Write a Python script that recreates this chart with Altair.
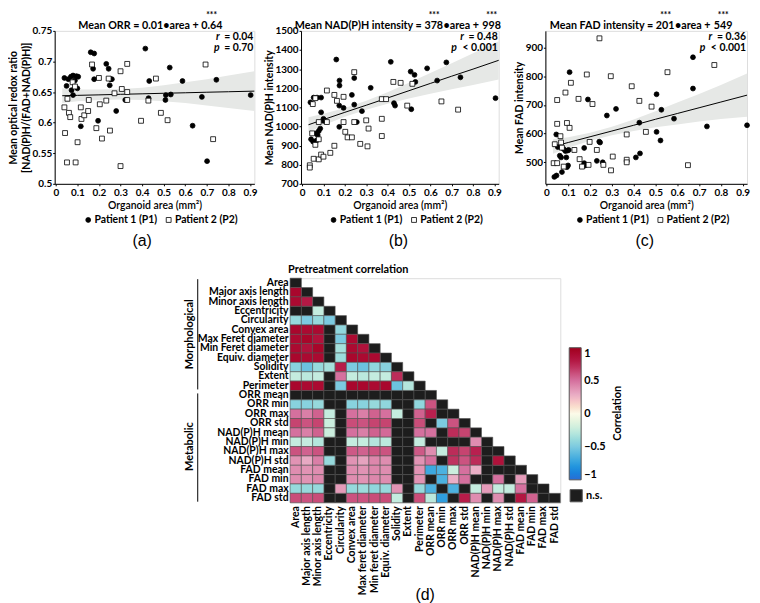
import altair as alt
import pandas as pd

FONT = "Lato"
PATIENTS = ["Patient 1 (P1)", "Patient 2 (P2)"]
XTICKS = [0, 0.1, 0.2, 0.3, 0.4, 0.5, 0.6, 0.7, 0.8, 0.9]

# ---------------- (a) Mean ORR ----------------
A_P1_X = [0.04, 0.05, 0.058, 0.07, 0.08, 0.089, 0.096, 0.10, 0.073, 0.08, 0.104, 0.116, 0.162, 0.178,
          0.173, 0.178, 0.196, 0.234, 0.245, 0.25, 0.254, 0.26, 0.28, 0.322, 0.415, 0.433, 0.43, 0.51,
          0.508, 0.528, 0.533, 0.587, 0.634, 0.677, 0.701, 0.744, 0.903]
A_P1_Y = [0.673, 0.660, 0.671, 0.675, 0.677, 0.669, 0.676, 0.656, 0.653, 0.645, 0.675, 0.594, 0.715, 0.713,
          0.688, 0.671, 0.603, 0.696, 0.688, 0.661, 0.671, 0.671, 0.619, 0.637, 0.721, 0.668, 0.640, 0.645,
          0.637, 0.690, 0.646, 0.668, 0.595, 0.642, 0.537, 0.670, 0.645]
A_P2_X = [0.04, 0.043, 0.052, 0.054, 0.061, 0.067, 0.078, 0.089, 0.092, 0.101, 0.116, 0.119, 0.132, 0.15,
          0.153, 0.168, 0.188, 0.2, 0.204, 0.214, 0.234, 0.245, 0.251, 0.272, 0.30, 0.306, 0.30, 0.331,
          0.331, 0.331, 0.395, 0.429, 0.464, 0.487, 0.518, 0.694, 0.729]
A_P2_Y = [0.625, 0.583, 0.535, 0.639, 0.616, 0.609, 0.666, 0.659, 0.535, 0.568, 0.625, 0.606, 0.612, 0.619,
          0.637, 0.695, 0.591, 0.673, 0.630, 0.574, 0.636, 0.672, 0.587, 0.648, 0.684, 0.655, 0.529, 0.650,
          0.637, 0.696, 0.603, 0.636, 0.672, 0.616, 0.604, 0.695, 0.573]
BAND_X = [0.03, 0.1, 0.2, 0.3, 0.4, 0.5, 0.6, 0.7, 0.8, 0.92]
A_FIT = [0.644, 0.6446, 0.6454, 0.6463, 0.6471, 0.648, 0.6488, 0.6497, 0.6505, 0.6515]
A_LO = [0.632, 0.635, 0.637, 0.638, 0.637, 0.635, 0.632, 0.628, 0.624, 0.619]
A_HI = [0.656, 0.654, 0.654, 0.655, 0.657, 0.661, 0.666, 0.671, 0.677, 0.684]

# ---------------- (b) Mean NAD(P)H ----------------
B_P1_X = [0.039, 0.054, 0.07, 0.089, 0.042, 0.051, 0.064, 0.073, 0.085, 0.089, 0.10, 0.10, 0.078, 0.067,
          0.16, 0.175, 0.175, 0.174, 0.194, 0.174, 0.233, 0.244, 0.244, 0.256, 0.28, 0.321, 0.415, 0.43,
          0.435, 0.508, 0.511, 0.526, 0.53, 0.585, 0.632, 0.675, 0.741, 0.905]
B_P1_Y = [1126, 1151, 1151, 1151, 933, 921, 964, 955, 989, 1074, 1040, 1029, 976, 926,
          1350, 1240, 1214, 1109, 1097, 998, 1165, 1253, 1114, 1023, 1080, 1202, 1338, 1122,
          1109, 1287, 1090, 1270, 1233, 1304, 1240, 1335, 1257, 1148]
B_P2_X = [0.036, 0.036, 0.047, 0.05, 0.054, 0.062, 0.062, 0.078, 0.078, 0.078, 0.089, 0.10, 0.116, 0.116,
          0.132, 0.151, 0.151, 0.163, 0.194, 0.194, 0.202, 0.213, 0.233, 0.244, 0.244, 0.272, 0.30, 0.306,
          0.311, 0.373, 0.373, 0.373, 0.393, 0.427, 0.461, 0.492, 0.516, 0.652, 0.73]
B_P2_Y = [797, 785, 964, 1117, 831, 1148, 904, 1023, 828, 933, 853, 842, 1188, 1023,
          862, 899, 1165, 1134, 1155, 1023, 972, 943, 943, 1284, 1023, 909, 1032, 896,
          989, 1040, 950, 1143, 1143, 1233, 1228, 1109, 1223, 1131, 1088]
B_FIT = [1009, 1036, 1074, 1111, 1149, 1187, 1225, 1263, 1300, 1346]
B_LO = [970, 1006, 1051, 1088, 1119, 1146, 1171, 1195, 1217, 1246]
B_HI = [1048, 1066, 1097, 1134, 1179, 1228, 1279, 1331, 1383, 1446]

# ---------------- (c) Mean FAD ----------------
C_P1_X = [0.036, 0.046, 0.045, 0.052, 0.061, 0.067, 0.071, 0.079, 0.087, 0.091, 0.094, 0.099, 0.106, 0.097,
          0.102, 0.173, 0.173, 0.178, 0.19, 0.231, 0.242, 0.246, 0.258, 0.277, 0.319, 0.41, 0.429, 0.426,
          0.505, 0.505, 0.523, 0.527, 0.585, 0.672, 0.672, 0.736, 0.92]
C_P1_Y = [449, 454, 597, 553, 523, 517, 466, 546, 539, 517, 483, 489, 814, 541,
          543, 550, 497, 489, 719, 505, 572, 569, 500, 663, 686, 517, 531, 638,
          737, 606, 576, 683, 652, 866, 757, 625, 629]
C_P2_X = [0.033, 0.038, 0.049, 0.049, 0.049, 0.064, 0.067, 0.071, 0.079, 0.087, 0.094, 0.106, 0.112, 0.128,
          0.147, 0.152, 0.163, 0.185, 0.193, 0.198, 0.211, 0.231, 0.243, 0.261, 0.295, 0.304, 0.296, 0.368,
          0.368, 0.368, 0.391, 0.426, 0.456, 0.482, 0.555, 0.649, 0.77]
C_P2_Y = [497, 563, 717, 634, 497, 591, 569, 551, 485, 743, 637, 620, 777, 543,
          721, 511, 485, 806, 491, 571, 703, 543, 932, 491, 800, 520, 472, 597,
          509, 500, 765, 714, 606, 694, 814, 490, 839]
C_FIT = [555, 569, 589, 609, 629, 650, 670, 690, 710, 734]
C_LO = [530, 551, 575, 594, 609, 622, 632, 642, 651, 659]
C_HI = [580, 587, 603, 624, 649, 678, 708, 738, 769, 809]

# ---------------- (d) correlation heatmap ----------------
ROW_LABELS = ["Area", "Major axis length", "Minor axis length", "Eccentricity", "Circularity",
              "Convex area", "Max Feret diameter", "Min Feret diameter", "Equiv. diameter", "Solidity",
              "Extent", "Perimeter", "ORR mean", "ORR min", "ORR max", "ORR std", "NAD(P)H mean",
              "NAD(P)H min", "NAD(P)H max", "NAD(P)H std", "FAD mean", "FAD min", "FAD max", "FAD std"]
COL_LABELS = ["Area", "Major axis length", "Minor axis length", "Eccentricity", "Circularity",
              "Convex area", "Max feret diameter", "Min feret diameter", "Equiv. diameter", "Solidity",
              "Extent", "Perimeter", "ORR mean", "ORR min", "ORR max", "ORR std", "NAD(P)H mean",
              "NAD(P)H min", "NAD(P)H max", "NAD(P)H std", "FAD mean", "FAD min", "FAD max", "FAD std"]
N = None  # not significant
CORR = [
    [],
    [0.92],
    [0.9, 0.8],
    [N, N, -0.25],
    [-0.4, -0.5, -0.4, -0.5],
    [0.92, 0.9, 0.9, N, -0.42],
    [0.9, 0.93, 0.85, N, -0.5, 0.9],
    [0.9, 0.85, 0.93, N, -0.35, 0.9, 0.85],
    [0.92, 0.9, 0.9, N, -0.38, 0.92, 0.9, 0.9],
    [-0.45, -0.55, -0.4, -0.35, 0.78, -0.5, -0.55, -0.42, -0.45],
    [-0.25, -0.28, -0.25, N, 0.5, -0.25, -0.28, -0.25, -0.25, 0.72],
    [0.92, 0.9, 0.9, N, -0.5, 0.92, 0.92, 0.9, 0.92, -0.55, -0.3],
    [N, N, N, N, N, N, N, N, N, N, N, N],
    [-0.45, -0.45, -0.4, N, N, -0.45, -0.45, -0.4, -0.42, N, N, -0.42, 0.6],
    [0.5, 0.45, 0.55, -0.25, N, 0.5, 0.45, 0.55, 0.5, -0.25, N, 0.55, 0.75, N],
    [0.65, 0.6, 0.65, -0.22, N, 0.62, 0.6, 0.65, 0.65, N, N, 0.62, N, -0.5, 0.6],
    [0.5, 0.45, 0.55, -0.22, N, 0.5, 0.45, 0.55, 0.52, N, N, 0.5, 0.5, N, 0.72, 0.65],
    [-0.25, -0.25, -0.3, N, N, -0.25, -0.25, -0.3, -0.28, N, N, -0.25, N, N, N, N, 0.4],
    [0.6, 0.55, 0.6, N, N, 0.58, 0.55, 0.6, 0.6, N, N, 0.58, 0.4, -0.25, 0.72, 0.65, 0.75, N],
    [0.38, 0.3, 0.45, -0.4, N, 0.38, 0.32, 0.42, 0.4, N, N, 0.38, 0.5, N, 0.7, 0.6, 0.72, N, 0.85],
    [0.4, 0.38, 0.4, N, N, 0.4, 0.38, 0.42, 0.4, N, N, 0.38, -0.7, -0.65, -0.22, 0.5, 0.28, N, N, N],
    [0.4, 0.38, 0.42, N, N, 0.4, 0.38, 0.42, 0.4, N, N, 0.38, N, -0.65, 0.28, 0.5, N, N, 0.5, N, 0.35],
    [-0.4, -0.4, -0.4, N, 0.35, -0.4, -0.38, -0.42, -0.4, 0.38, N, -0.4, -0.65, N, -0.65, N, -0.25, 0.35,
     -0.25, -0.25, 0.5, N],
    [0.62, 0.6, 0.62, N, N, 0.6, 0.6, 0.62, 0.62, -0.25, N, 0.62, -0.28, -0.75, N, 0.78, 0.4, N, 0.4, N,
     0.82, 0.55, N],
]
C_STOPS = [-1, -0.5, -0.25, 0, 0.25, 0.5, 0.75, 1]
C_COLORS = ["#2a6cd4", "#7ccae0", "#c4ecdf", "#fcfbe9", "#ecb7cc", "#d5709e", "#b8204f", "#a0001c"]


def txt(s, x, y, size=10.5, weight="bold", align="center", baseline="middle", style="normal",
        angle=0, font=FONT):
    return alt.Chart(pd.DataFrame({"t": [s]})).mark_text(
        align=align, baseline=baseline, fontSize=size, fontWeight=weight, fontStyle=style,
        font=font, color="black", angle=angle
    ).encode(text="t:N", x=alt.value(x), y=alt.value(y))


def panel(p1x, p1y, p2x, p2y, fit, lo, hi, ydom, yvals, yfmt, ytitle, W, title_parts, stars,
          r_txt, p_txt, p_off, letter, lx):
    H = 154
    pts = pd.DataFrame({"area": p1x + p2x, "value": p1y + p2y,
                        "patient": [PATIENTS[0]] * len(p1x) + [PATIENTS[1]] * len(p2x)})
    band = pd.DataFrame({"area": BAND_X, "lo": lo, "hi": hi, "fit": fit})
    xs = alt.Scale(domain=[-0.005, 0.92], nice=False, zero=False)
    ys = alt.Scale(domain=ydom, nice=False, zero=False)
    xax = alt.Axis(values=XTICKS, format="~g", title="Organoid area (mm²)", grid=False,
                   domainColor="black", tickColor="black", tickSize=2, labelColor="black",
                   labelFont=FONT, labelFontSize=10, labelFontWeight="bold", labelPadding=2,
                   titleFont=FONT, titleFontSize=10.5, titleFontWeight=600, titleColor="black",
                   titlePadding=3, labelFlush=False)
    yax = alt.Axis(values=yvals, format=yfmt, title=ytitle, grid=False,
                   domainColor="black", tickColor="black", tickSize=2, labelColor="black",
                   labelFont=FONT, labelFontSize=10, labelFontWeight="bold", labelPadding=1,
                   titleFont=FONT, titleFontSize=10.5, titleFontWeight="bold", titleColor="black",
                   titlePadding=1)
    X = alt.X("area:Q", scale=xs, axis=xax)
    leg = alt.Legend(orient="none", legendX=W / 2 - 72, legendY=H + 31, direction="horizontal",
                     title=None, labelFont=FONT, labelFontSize=10.5, labelFontWeight="bold",
                     labelColor="black", symbolSize=24, symbolStrokeWidth=0.8, labelOffset=1,
                     columnPadding=6)
    l_band = alt.Chart(band).mark_area(color="#e6e8e6").encode(
        x=X, y=alt.Y("lo:Q", scale=ys, axis=yax), y2="hi:Q")
    l_line = alt.Chart(band).mark_line(color="black", strokeWidth=1).encode(
        x=X, y=alt.Y("fit:Q", scale=ys, axis=yax))
    l_pts = alt.Chart(pts).mark_point(strokeWidth=0.8, size=24, opacity=1).encode(
        x=X, y=alt.Y("value:Q", scale=ys, axis=yax),
        shape=alt.Shape("patient:N", scale=alt.Scale(domain=PATIENTS, range=["circle", "square"]), legend=leg),
        fill=alt.Fill("patient:N", scale=alt.Scale(domain=PATIENTS, range=["black", "white"]), legend=leg),
        stroke=alt.Stroke("patient:N", scale=alt.Scale(domain=PATIENTS, range=["black", "black"]), legend=leg),
    )
    layers = [l_band, l_line, l_pts,
              txt("= " + r_txt, W - 1, 6, align="right"),
              txt("r", W - 1 - 34, 6, align="right", style="italic"),
              txt(p_txt, W - 1, 17, align="right"),
              txt("p", W - 1 - p_off, 17, align="right", style="italic"),
              txt(letter, lx, H + 58, size=16, weight="normal", font="Liberation Sans")]
    for s, x, al in title_parts:
        layers.append(txt(s, x, -5, size=10.8, align=al))
    for sx in stars:
        layers.append(txt("***", sx, -16, size=8.5))
    return alt.layer(*layers).properties(width=W, height=H)


pa = panel(A_P1_X, A_P1_Y, A_P2_X, A_P2_Y, A_FIT, A_LO, A_HI, [0.5, 0.75],
           [0.5, 0.55, 0.6, 0.65, 0.7, 0.75], "~g", ["Mean optical redox ratio", "[NAD(P)H/(FAD+NAD(P)H)]"],
           201, [("Mean ORR = 0.01•area +", 145, "right"), ("0.64", 147.5, "left")], [158],
           "0.04", "= 0.70", 34, "(a)", 88)
pb = panel(B_P1_X, B_P1_Y, B_P2_X, B_P2_Y, B_FIT, B_LO, B_HI, [700, 1500],
           [700, 800, 900, 1000, 1100, 1200, 1300, 1400, 1500], "d", "Mean NAD(P)H intensity",
           199, [("Mean NAD(P)H intensity = 378", 143, "right"), ("•area +", 143.5, "left"),
                 ("998", 182.5, "left")], [134, 192],
           "0.48", "< 0.001", 41, "(b)", 98)
pc = panel(C_P1_X, C_P1_Y, C_P2_X, C_P2_Y, C_FIT, C_LO, C_HI, [425, 958],
           [500, 600, 700, 800, 900], "d", "Mean FAD intensity",
           203, [("Mean FAD intensity = 201", 130, "right"), ("•area +", 130.5, "left"),
                 ("549", 169.5, "left")], [121, 179],
           "0.36", "< 0.001", 41, "(c)", 100)

top = alt.hconcat(pa, pb, pc, spacing=47, bounds="flush").resolve_scale(
    fill="independent", shape="independent", stroke="independent")

# heatmap
HW, HH = 272, 226
cells = []
for i, row in enumerate(CORR):
    for j in range(i + 1):
        v = row[j] if j < i else None
        cells.append({"row": ROW_LABELS[i], "col": COL_LABELS[j], "r": v,
                      "status": "sig" if v is not None else "n.s."})
cdf = pd.DataFrame(cells)
sig = cdf[cdf.status == "sig"]
ns = cdf[cdf.status == "n.s."]

xh = alt.X("col:N", scale=alt.Scale(domain=COL_LABELS, paddingInner=0, paddingOuter=0),
           axis=alt.Axis(title=None, domain=False, ticks=False, labelAngle=270, labelPadding=3,
                         labelFont=FONT, labelFontSize=10.5, labelFontWeight="bold", labelColor="black"))
yh = alt.Y("row:N", scale=alt.Scale(domain=ROW_LABELS, paddingInner=0, paddingOuter=0),
           axis=alt.Axis(title=None, domain=False, ticks=False, labelPadding=2,
                         labelFont=FONT, labelFontSize=10.5, labelFontWeight="bold", labelColor="black"))

h_sig = alt.Chart(sig).mark_rect(stroke="#505050", strokeWidth=0.6).encode(
    x=xh, y=yh,
    color=alt.Color("r:Q", scale=alt.Scale(domain=C_STOPS, range=C_COLORS),
                    legend=alt.Legend(orient="none", legendX=HW + 9, legendY=70, direction="vertical",
                                      gradientLength=133, gradientThickness=12, format="~g",
                                      values=[1, 0.5, 0, -0.5, -1], title=None, labelFont=FONT,
                                      labelFontSize=11, labelFontWeight="bold", labelColor="black",
                                      gradientStrokeColor="#555555", gradientStrokeWidth=1,
                                      labelOffset=3, labelOverlap=False)))
h_ns = alt.Chart(ns).mark_rect(stroke="#505050", strokeWidth=0.6).encode(
    x=xh, y=yh,
    fill=alt.Fill("status:N", scale=alt.Scale(domain=["n.s."], range=["#1d1d1d"]),
                  legend=alt.Legend(orient="none", legendX=HW + 9, legendY=212, title=None,
                                    symbolType="square", symbolSize=150, symbolStrokeColor="#555555",
                                    symbolStrokeWidth=1, labelFont=FONT, labelFontSize=11,
                                    labelFontWeight="bold", labelColor="black", labelOffset=3)))
bracket1 = alt.Chart(pd.DataFrame({"g": ["Morphological"]})).mark_rule(color="black", strokeWidth=1).encode(
    x=alt.value(-93), y=alt.value(1), y2=alt.value(112))
bracket2 = alt.Chart(pd.DataFrame({"g": ["Metabolic"]})).mark_rule(color="black", strokeWidth=1).encode(
    x=alt.value(-93), y=alt.value(116), y2=alt.value(225))

heat = alt.layer(
    h_ns, h_sig, bracket1, bracket2,
    txt("Pretreatment correlation", -2, -8, size=11, align="left"),
    txt("Morphological", -101, 56.5, size=11, angle=270),
    txt("Metabolic", -101, 169.5, size=11, angle=270),
    txt("Correlation", HW + 58, 136, size=11, angle=270),
    txt("(d)", HW / 2, HH + 93, size=16, weight="normal", font="Liberation Sans"),
).properties(width=HW, height=HH)

spacer = alt.Chart(pd.DataFrame({"t": [""]})).mark_text().encode(
    text="t:N", x=alt.value(0), y=alt.value(0)
).properties(width=225, height=1, view=alt.ViewBackground(stroke=None, fill=None))

bottom = alt.hconcat(spacer, heat, spacing=12, bounds="flush").resolve_scale(
    color="independent", fill="independent")

chart = alt.vconcat(top, bottom, spacing=13).resolve_scale(
    color="independent", fill="independent", shape="independent", stroke="independent"
).properties(padding=0).configure_view(stroke=None).configure(font=FONT)

chart.save("out.html", embed_options={"renderer": "svg", "actions": False})
